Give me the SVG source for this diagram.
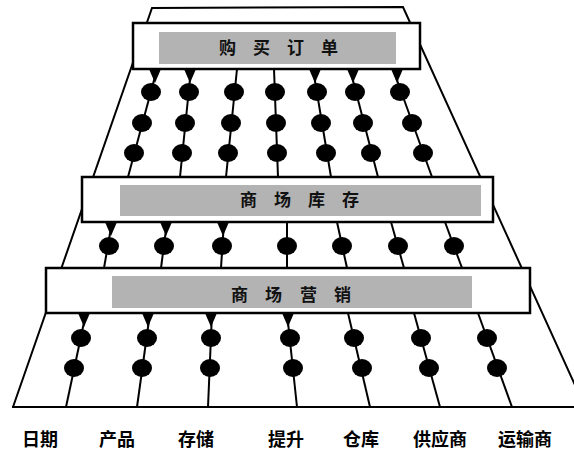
<svg xmlns="http://www.w3.org/2000/svg" xmlns:xlink="http://www.w3.org/1999/xlink" width="574" height="451" viewBox="0 0 574 451">
  <style>
    .frame { fill: none; stroke: #000; stroke-width: 2; stroke-linejoin: miter; }
    .col { stroke: #000; stroke-width: 2; fill: none; }
    .dot { fill: #000; }
    .box { fill: #fff; stroke: #000; stroke-width: 2.5; }
    .band { fill: #b3b3b3; }
    .btxt { font-family: "Noto Sans CJK SC", "Noto Sans", sans-serif; font-size: 17px; font-weight: 700; fill: #111; }
    .lbl { font-family: "Noto Sans CJK SC", "Noto Sans", sans-serif; font-size: 18px; font-weight: 700; fill: #000; }
  </style>
  <defs>
    <polygon id="tri" points="-6,0 6,0 0,14" fill="#000"/>
  </defs>
  <rect width="574" height="451" fill="#fff"/>

  <g id="frame">
    <polyline class="frame" points="13,407 152,8 403,7 585,407"/>
    <line class="frame" x1="12" y1="407" x2="574" y2="407"/>
  </g>

  <g id="connectors">
    <!-- top section -->
    <line class="col" x1="157" y1="69" x2="128" y2="177"/>
    <line class="col" x1="191" y1="69" x2="180" y2="177"/>
    <line class="col" x1="237" y1="69" x2="226" y2="177"/>
    <line class="col" x1="274" y1="69" x2="278" y2="177"/>
    <line class="col" x1="313" y1="69" x2="331" y2="177"/>
    <line class="col" x1="350" y1="69" x2="378" y2="177"/>
    <line class="col" x1="393" y1="69" x2="432" y2="177"/>
    <use xlink:href="#tri" x="155" y="69"/>
    <use xlink:href="#tri" x="190" y="69"/>
    <use xlink:href="#tri" x="315" y="69"/>
    <use xlink:href="#tri" x="353" y="69"/>
    <use xlink:href="#tri" x="397" y="69"/>
    <ellipse class="dot" cx="151" cy="92" rx="10" ry="9"/>
    <ellipse class="dot" cx="142" cy="123" rx="10" ry="9"/>
    <ellipse class="dot" cx="134" cy="153" rx="10" ry="9"/>
    <ellipse class="dot" cx="189" cy="92" rx="10" ry="9"/>
    <ellipse class="dot" cx="185" cy="123" rx="10" ry="9"/>
    <ellipse class="dot" cx="182" cy="153" rx="10" ry="9"/>
    <ellipse class="dot" cx="234" cy="92" rx="10" ry="9"/>
    <ellipse class="dot" cx="231" cy="123" rx="10" ry="9"/>
    <ellipse class="dot" cx="228" cy="153" rx="10" ry="9"/>
    <ellipse class="dot" cx="275" cy="92" rx="10" ry="9"/>
    <ellipse class="dot" cx="276" cy="123" rx="10" ry="9"/>
    <ellipse class="dot" cx="277" cy="153" rx="10" ry="9"/>
    <ellipse class="dot" cx="317" cy="92" rx="10" ry="9"/>
    <ellipse class="dot" cx="321" cy="123" rx="10" ry="9"/>
    <ellipse class="dot" cx="326" cy="153" rx="10" ry="9"/>
    <ellipse class="dot" cx="355" cy="92" rx="10" ry="9"/>
    <ellipse class="dot" cx="363" cy="123" rx="10" ry="9"/>
    <ellipse class="dot" cx="371" cy="153" rx="10" ry="9"/>
    <ellipse class="dot" cx="400" cy="92" rx="10" ry="9"/>
    <ellipse class="dot" cx="412" cy="123" rx="10" ry="9"/>
    <ellipse class="dot" cx="423" cy="153" rx="10" ry="9"/>

    <!-- middle section -->
    <line class="col" x1="112" y1="222" x2="104" y2="268"/>
    <line class="col" x1="167" y1="222" x2="161" y2="268"/>
    <line class="col" x1="224" y1="222" x2="221" y2="268"/>
    <line class="col" x1="287" y1="222" x2="287" y2="268"/>
    <line class="col" x1="337" y1="222" x2="347" y2="268"/>
    <line class="col" x1="391" y1="222" x2="404" y2="268"/>
    <line class="col" x1="445" y1="222" x2="462" y2="268"/>
    <use xlink:href="#tri" x="111" y="222"/>
    <use xlink:href="#tri" x="166" y="222"/>
    <use xlink:href="#tri" x="223" y="222"/>
    <ellipse class="dot" cx="109" cy="246" rx="10" ry="9"/>
    <ellipse class="dot" cx="164" cy="246" rx="10" ry="9"/>
    <ellipse class="dot" cx="222" cy="246" rx="10" ry="9"/>
    <ellipse class="dot" cx="287" cy="246" rx="10" ry="9"/>
    <ellipse class="dot" cx="342" cy="246" rx="10" ry="9"/>
    <ellipse class="dot" cx="398" cy="246" rx="10" ry="9"/>
    <ellipse class="dot" cx="454" cy="246" rx="10" ry="9"/>

    <!-- bottom section -->
    <line class="col" x1="86" y1="313" x2="66" y2="407"/>
    <line class="col" x1="150" y1="313" x2="137" y2="407"/>
    <line class="col" x1="212" y1="313" x2="208" y2="407"/>
    <line class="col" x1="287" y1="313" x2="297" y2="407"/>
    <line class="col" x1="348" y1="313" x2="370" y2="407"/>
    <line class="col" x1="414" y1="313" x2="440" y2="407"/>
    <line class="col" x1="478" y1="313" x2="512" y2="407"/>
    <use xlink:href="#tri" x="84" y="313"/>
    <use xlink:href="#tri" x="148" y="313"/>
    <use xlink:href="#tri" x="211" y="313"/>
    <use xlink:href="#tri" x="288" y="313"/>
    <ellipse class="dot" cx="81" cy="338" rx="10" ry="9"/>
    <ellipse class="dot" cx="74" cy="368" rx="10" ry="9"/>
    <ellipse class="dot" cx="147" cy="338" rx="10" ry="9"/>
    <ellipse class="dot" cx="142" cy="368" rx="10" ry="9"/>
    <ellipse class="dot" cx="211" cy="338" rx="10" ry="9"/>
    <ellipse class="dot" cx="210" cy="368" rx="10" ry="9"/>
    <ellipse class="dot" cx="290" cy="338" rx="10" ry="9"/>
    <ellipse class="dot" cx="293" cy="368" rx="10" ry="9"/>
    <ellipse class="dot" cx="354" cy="338" rx="10" ry="9"/>
    <ellipse class="dot" cx="362" cy="368" rx="10" ry="9"/>
    <ellipse class="dot" cx="421" cy="338" rx="10" ry="9"/>
    <ellipse class="dot" cx="429" cy="368" rx="10" ry="9"/>
    <ellipse class="dot" cx="487" cy="338" rx="10" ry="9"/>
    <ellipse class="dot" cx="497" cy="368" rx="10" ry="9"/>
  </g>

  <g id="purchase-orders">
    <rect class="box" x="133" y="23" width="287" height="46"/>
    <rect class="band" x="159" y="32" width="237" height="32"/>
    <text class="btxt" x="219 253 287 321" y="54">购买订单</text>
  </g>

  <g id="store-inventory">
    <rect class="box" x="82" y="177" width="411" height="45"/>
    <rect class="band" x="120" y="185" width="361" height="31"/>
    <text class="btxt" x="240 274 308 342" y="206">商场库存</text>
  </g>

  <g id="store-marketing">
    <rect class="box" x="46" y="268" width="484" height="45"/>
    <rect class="band" x="112" y="276" width="360" height="32"/>
    <text class="btxt" x="231 265 300 334" y="301">商场营销</text>
  </g>

  <g id="labels">
    <text class="lbl" x="22" y="446">日期</text>
    <text class="lbl" x="99" y="446">产品</text>
    <text class="lbl" x="178" y="446">存储</text>
    <text class="lbl" x="268" y="446">提升</text>
    <text class="lbl" x="343" y="446">仓库</text>
    <text class="lbl" x="413" y="446">供应商</text>
    <text class="lbl" x="498" y="446">运输商</text>
  </g>
</svg>
